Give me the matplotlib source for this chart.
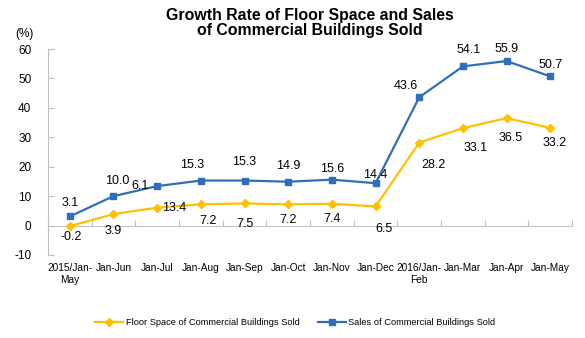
import matplotlib
matplotlib.use("Agg")
import matplotlib.pyplot as plt
import numpy as np

plt.rcParams['font.family'] = ['Liberation Sans', 'DejaVu Sans']

categories = ["2015/Jan-\nMay", "Jan-Jun", "Jan-Jul", "Jan-Aug", "Jan-Sep", "Jan-Oct",
              "Jan-Nov", "Jan-Dec", "2016/Jan-\nFeb", "Jan-Mar", "Jan-Apr", "Jan-May"]
floor_space = [-0.2, 3.9, 6.1, 7.2, 7.5, 7.2, 7.4, 6.5, 28.2, 33.1, 36.5, 33.2]
sales = [3.1, 10.0, 13.4, 15.3, 15.3, 14.9, 15.6, 14.4, 43.6, 54.1, 55.9, 50.7]
# labels as printed in the original (two are swapped there)
floor_labels = ["-0.2", "3.9", "13.4", "7.2", "7.5", "7.2", "7.4", "6.5", "28.2", "33.1", "36.5", "33.2"]
sales_labels = ["3.1", "10.0", "6.1", "15.3", "15.3", "14.9", "15.6", "14.4", "43.6", "54.1", "55.9", "50.7"]
yticks = [-10, 0, 10, 20, 30, 40, 50, 60]

# label offsets in points (dx, dy)
sales_off = [(0, 10), (3, 11), (-12, 0), (-6, 11), (0, 13), (0, 11), (0, 8), (0, 6),
             (-10, 8), (4, 12), (0, 9), (0, 8)]
floor_off = [(1, -8), (0, -12), (12, 0), (5, -12), (0, -15), (0, -11), (0, -11), (6, -16),
             (10, -16), (9, -14), (3, -14), (3, -11)]

YELLOW = "#FFC000"
BLUE = "#2F6EBA"
GRAY = "#BFBFBF"

fig = plt.figure(figsize=(5.85, 3.38), dpi=100)
ax = fig.add_axes([0.082, 0.2456, 0.896, 0.6094])
x = np.arange(len(categories))

l1, = ax.plot(x, floor_space, color=YELLOW, lw=1.6, marker='D', ms=4.2,
              label="Floor Space of Commercial Buildings Sold", zorder=3)
l2, = ax.plot(x, sales, color=BLUE, lw=1.6, marker='s', ms=4,
              label="Sales of Commercial Buildings Sold", zorder=3)

for i in range(len(x)):
    ax.annotate(sales_labels[i], (x[i], sales[i]), xytext=sales_off[i], textcoords='offset points',
                ha='center', va='center', fontsize=9, color='black')
    ax.annotate(floor_labels[i], (x[i], floor_space[i]), xytext=floor_off[i], textcoords='offset points',
                ha='center', va='center', fontsize=9, color='black')

ax.set_xlim(-0.5, len(categories) - 0.5)
ax.set_ylim(-10, 60)
ax.set_yticks(yticks)
ax.set_yticklabels([str(t) for t in yticks], fontsize=8.5)
ax.tick_params(axis='y', direction='in', length=4, color=GRAY, pad=12)

for s in ['top', 'right']:
    ax.spines[s].set_visible(False)
ax.spines['left'].set_color(GRAY)
ax.spines['bottom'].set_color(GRAY)
ax.spines['bottom'].set_position(('data', 0))

ax.set_xticks(np.arange(-0.5, len(categories), 1.0))
ax.set_xticklabels([])
ax.tick_params(axis='x', which='major', direction='in', length=4, color=GRAY)
ax.set_xticks(x, minor=True)
ax.set_xticklabels(categories, minor=True, fontsize=7.3, linespacing=1.25)
ax.tick_params(axis='x', which='minor', length=0, pad=27)

fig.text(0.042, 0.9, "(%)", fontsize=8.5, ha='center', va='center')
fig.text(0.53, 0.933, "Growth Rate of Floor Space and Sales\nof Commercial Buildings Sold",
         fontsize=11.4, fontweight='bold', ha='center', va='center', linespacing=1.0)

fig.legend(handles=[l1, l2], loc='center', bbox_to_anchor=(0.505, 0.045), ncol=2, frameon=False,
           fontsize=6.65, handlelength=3.0, columnspacing=2.0, handletextpad=0.3)

fig.savefig("out.png", dpi=100)
